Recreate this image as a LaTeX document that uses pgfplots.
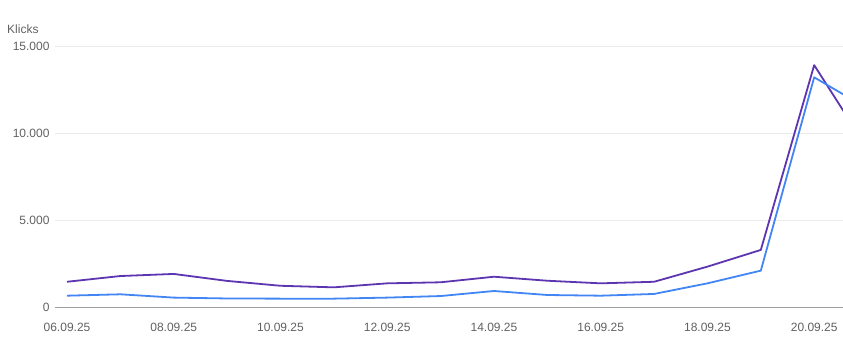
\documentclass[border=0pt]{standalone}
\usepackage{pgfplots}
\pgfplotsset{compat=1.18}
\usepackage{fontspec}
\setmainfont{Liberation Sans}
\definecolor{clk}{HTML}{4285F4}
\definecolor{imp}{HTML}{5E35B1}
\definecolor{txt}{HTML}{616161}
\definecolor{grd}{HTML}{EBEBEB}
\definecolor{base}{HTML}{9E9E9E}
\begin{document}
\begin{tikzpicture}[x=1pt,y=1pt]
\useasboundingbox (-55,-47) rectangle (788,307);
\begin{axis}[
  at={(0pt,0pt)}, anchor=south west,
  scale only axis, width=788pt, height=261pt,
  xmin=5.775, xmax=20.54, ymin=0, ymax=15000,
  scaled y ticks=false,
  axis line style={draw=none},
  major tick length=0pt,
  xtick={6,8,10,12,14,16,18,20},
  xticklabels={06.09.25,08.09.25,10.09.25,12.09.25,14.09.25,16.09.25,18.09.25,20.09.25},
  ytick={5000,10000,15000},
  yticklabels={5.000,10.000,15.000},
  extra y ticks={0}, extra y tick labels={0},
  extra y tick style={grid style={color=base, line width=0.8pt}},
  ymajorgrids,
  grid style={color=grd, line width=0.8pt},
  tick label style={font=\fontsize{12}{14}\selectfont, text=txt},
  xticklabel style={yshift=-13pt},
  yticklabel style={xshift=-2pt},
  clip=true,
]
\addplot[imp, line width=1.8pt, line join=round] coordinates {
(6,1450) (7,1780) (8,1900) (9,1500) (10,1220) (11,1130) (12,1360) (13,1420)
(14,1740) (15,1510) (16,1360) (17,1450) (18,2320) (19,3280) (20,13900) (21,9100)};
\addplot[clk, line width=1.8pt, line join=round] coordinates {
(6,650) (7,730) (8,540) (9,490) (10,480) (11,480) (12,540) (13,630)
(14,920) (15,690) (16,650) (17,750) (18,1360) (19,2090) (20,13200) (21,11400)};
\end{axis}
\node[anchor=base west, text=txt, font=\fontsize{12}{14}\selectfont, inner sep=0pt] at (-48,273) {Klicks};
\end{tikzpicture}
\end{document}
